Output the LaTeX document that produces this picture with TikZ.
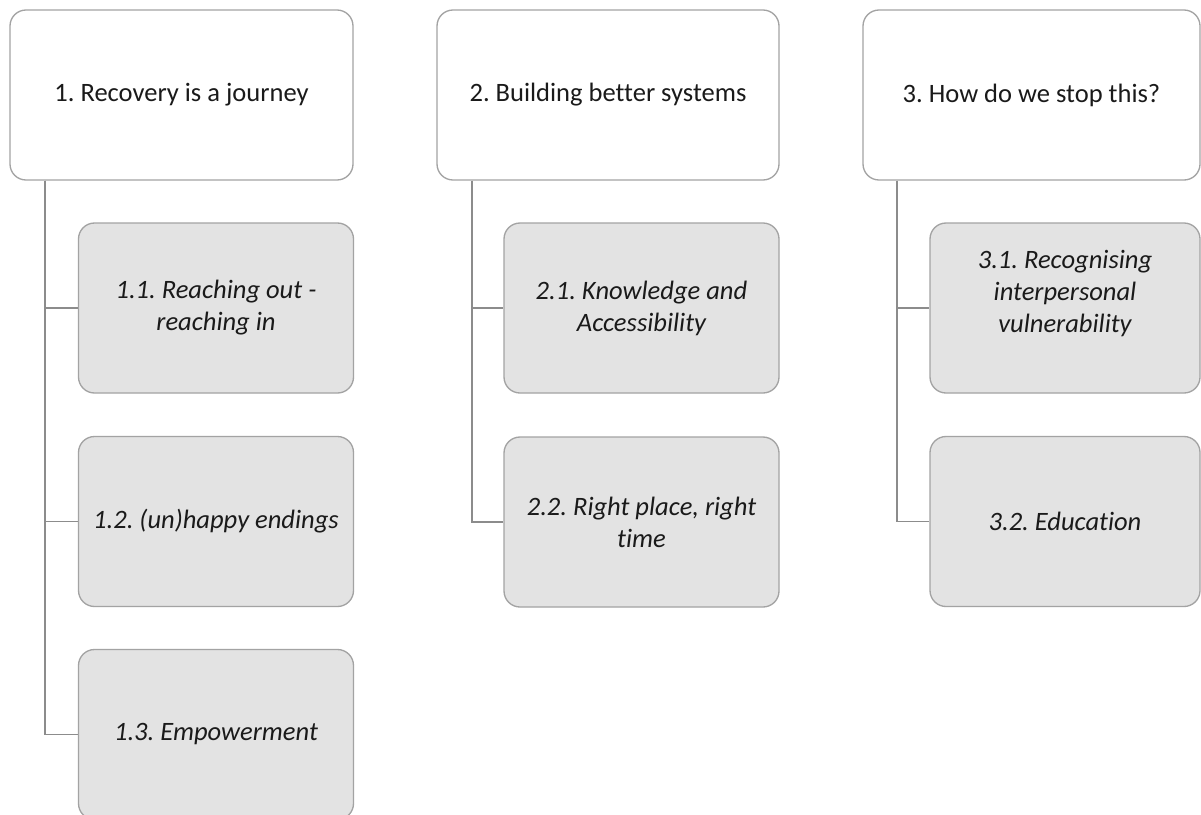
\documentclass[tikz,border=0pt]{standalone}
\usepackage{fontspec}
\setmainfont{Carlito}[Ligatures=NoCommon]
\definecolor{boxgray}{HTML}{A3A3A3}
\definecolor{linegray}{HTML}{8C8C8C}
\definecolor{childfill}{HTML}{E3E3E3}
\definecolor{txt}{HTML}{1A1A1A}
\tikzset{
  parentbox/.style={draw=boxgray, line width=1pt, rounded corners=12pt, fill=white,
    minimum height=127.5pt, inner sep=0pt, align=center, text=txt,
    font=\fontsize{19.9}{24}\selectfont},
  childbox/.style={draw=boxgray, line width=1pt, rounded corners=12pt, fill=childfill,
    minimum height=127.5pt, inner sep=0pt, align=center, text=txt,
    font=\fontsize{19.9}{24}\selectfont\itshape},
  childtext/.style={inner sep=0pt, align=center, text=txt,
    font=\fontsize{19.9}{24}\selectfont\itshape},
  connector/.style={draw=linegray, line width=1pt}
}
\begin{document}
\frenchspacing
\begin{tikzpicture}[x=0.75pt,y=-0.75pt]
\useasboundingbox (0,0) rectangle (1201,814);
% parents
\node[parentbox, minimum width=257.25pt] (P1) at (181.5,95) {1. Recovery is a journey};
\node[parentbox, minimum width=256.5pt] (P2) at (608,95) {2. Building better systems};
\node[parentbox, minimum width=252.75pt] (P3) at (1031.5,95) {3. How do we stop this?};
% children
\node[childbox, minimum width=206.25pt] (C11) at (216,308) {1.1. Reaching out -\\reaching in};
\node[childbox, minimum width=206.25pt] (C12) at (216,521.5) {1.2. (un)happy endings};
\node[childbox, minimum width=206.25pt] (C13) at (216,734.5) {1.3. Empowerment};
\node[childbox, minimum width=206.25pt] (C21) at (641.5,308) {2.1. Knowledge and\\Accessibility};
\node[childbox, minimum width=206.25pt] (C22) at (641.5,522) {2.2. Right place, right\\time};
\node[childbox, minimum width=202.5pt] (C31) at (1065,308) {};
\node[childtext] (T31) at ([yshift=10.5pt]C31.center) {3.1. Recognising\\interpersonal\\vulnerability};
\node[childbox, minimum width=202.5pt] (C32) at (1065,521.5) {3.2. Education};
% trunk coordinates
\coordinate (t1) at (45,180);
\coordinate (t2) at (472,180);
\coordinate (t3) at (897,180);
% connectors
\draw[connector] (P1.south -| t1) |- (C13.west);
\draw[connector] (P1.south -| t1) |- (C11.west);
\draw[connector] (P1.south -| t1) |- (C12.west);
\draw[connector] (P2.south -| t2) |- (C22.west);
\draw[connector] (P2.south -| t2) |- (C21.west);
\draw[connector] (P3.south -| t3) |- (C32.west);
\draw[connector] (P3.south -| t3) |- (C31.west);
\end{tikzpicture}
\end{document}
